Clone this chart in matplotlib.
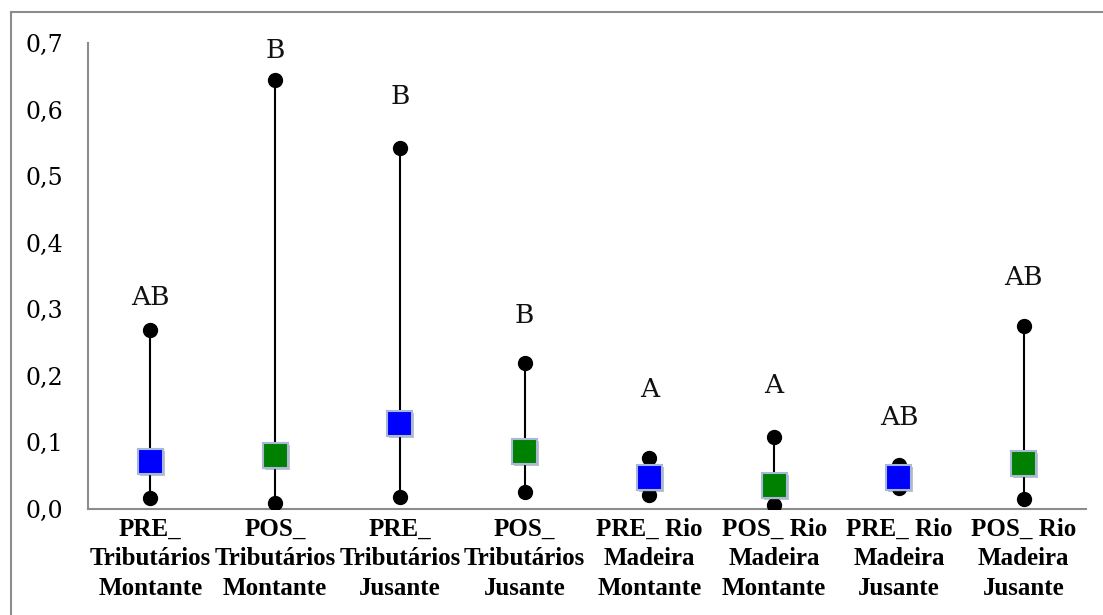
import matplotlib.pyplot as plt
import matplotlib.patheffects as pe
from matplotlib.lines import Line2D
import numpy as np

categories = ["PRE_\nTributários\nMontante", "POS_\nTributários\nMontante",
              "PRE_\nTributários\nJusante", "POS_\nTributários\nJusante",
              "PRE_ Rio\nMadeira\nMontante", "POS_ Rio\nMadeira\nMontante",
              "PRE_ Rio\nMadeira\nJusante", "POS_ Rio\nMadeira\nJusante"]
max_vals = [0.269, 0.644, 0.543, 0.219, 0.077, 0.108, 0.066, 0.275]
min_vals = [0.017, 0.009, 0.018, 0.026, 0.021, 0.006, 0.032, 0.015]
mean_vals = [0.072, 0.080, 0.128, 0.086, 0.048, 0.036, 0.047, 0.068]
groups = ["AB", "B", "B", "B", "A", "A", "AB", "AB"]
group_y = [0.317, 0.689, 0.619, 0.290, 0.179, 0.186, 0.137, 0.348]
period = ["PRE", "POS", "PRE", "POS", "PRE", "POS", "PRE", "POS"]
period_colors = {"PRE": "#0000FF", "POS": "#008000"}

fig = plt.figure(figsize=(11.03, 6.15), dpi=100)
ax = fig.add_axes([0.0798, 0.1724, 0.9048, 0.7577])

x = np.arange(len(categories))

# range whiskers with min/max dots
ax.vlines(x, min_vals, max_vals, colors="black", lw=1.5, zorder=2)
ax.plot(x, max_vals, "o", color="black", ms=10, zorder=3, ls="none")
ax.plot(x, min_vals, "o", color="black", ms=10, zorder=3, ls="none")

# mean squares, coloured by period
shadow = [pe.SimplePatchShadow(offset=(1.5, -1.5), shadow_rgbFace="#555555", alpha=0.35), pe.Normal()]
for xi, m, p in zip(x, mean_vals, period):
    ax.plot([xi], [m], "s", ms=18, mfc=period_colors[p], mec="#a8b8d8", mew=1.5,
            zorder=4, path_effects=shadow)

# significance letters
for xi, g, gy in zip(x, groups, group_y):
    ax.text(xi, gy, g, ha="center", va="center", fontsize=19, family="DejaVu Serif",
            color="#111111")

ax.set_xlim(-0.5, len(categories) - 0.5)
ax.set_ylim(0, 0.7)
ax.set_yticks(np.arange(0, 0.71, 0.1))
ax.set_yticklabels([f"{v:.1f}".replace(".", ",") for v in np.arange(0, 0.71, 0.1)],
                   fontsize=17, family="DejaVu Serif")
ax.set_xticks(x)
ax.set_xticklabels(categories, fontsize=18, family="Liberation Serif", fontweight="bold",
                   linespacing=1.38)
ax.tick_params(axis="both", length=0)
ax.tick_params(axis="y", pad=18)
ax.tick_params(axis="x", pad=6)

for side in ["top", "right"]:
    ax.spines[side].set_visible(False)
for side in ["left", "bottom"]:
    ax.spines[side].set_color("#8c8c8c")
    ax.spines[side].set_linewidth(1.5)

# outer chart-area frame
fig.add_artist(Line2D([0.0100, 0.0100], [0.0, 0.980], color="#8c8c8c", lw=1.5))
fig.add_artist(Line2D([0.0100, 1.0], [0.980, 0.980], color="#8c8c8c", lw=1.5))

fig.savefig("out.png", dpi=100)
